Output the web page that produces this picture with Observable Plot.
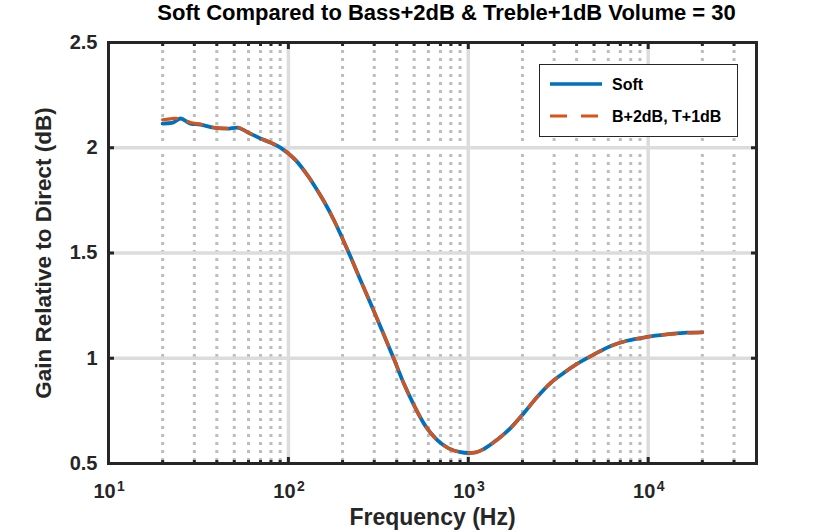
<!DOCTYPE html>
<html>
<head>
<meta charset="utf-8">
<script src="https://cdn.jsdelivr.net/npm/d3@7"></script>
<script src="https://cdn.jsdelivr.net/npm/@observablehq/plot@0.6"></script>
<style>
  html, body { margin: 0; padding: 0; background: #fff; }
  #chart svg { display: block; }
</style>
</head>
<body>
<div id="chart"></div>
<script>
// ---- data ----
const freq = [20, 22.6, 25.1, 28.5, 32.4, 38.4, 45.6, 51.9, 58.9, 69.9, 79.4, 88, 94, 100, 110, 127, 141, 157, 178.6, 200, 216, 250, 298, 338, 385, 437, 497, 576, 670, 778, 903, 1000, 1100, 1216, 1443, 1711, 2029, 2408, 2855, 3388, 4020, 4970, 6150, 7620, 9840, 12700, 16400, 20000];
const soft = [2.115, 2.118, 2.139, 2.115, 2.110, 2.096, 2.091, 2.096, 2.075, 2.044, 2.025, 2.006, 1.990, 1.973, 1.940, 1.872, 1.814, 1.748, 1.658, 1.568, 1.504, 1.377, 1.226, 1.115, 0.999, 0.882, 0.780, 0.680, 0.612, 0.572, 0.554, 0.550, 0.553, 0.568, 0.612, 0.667, 0.738, 0.815, 0.881, 0.930, 0.973, 1.017, 1.057, 1.083, 1.101, 1.113, 1.122, 1.123];
const bassTreble = [2.133, 2.138, 2.140, 2.120, 2.112, 2.096, 2.092, 2.098, 2.075, 2.044, 2.025, 2.006, 1.990, 1.973, 1.940, 1.872, 1.814, 1.748, 1.658, 1.568, 1.504, 1.377, 1.226, 1.115, 0.999, 0.882, 0.780, 0.680, 0.612, 0.572, 0.554, 0.550, 0.553, 0.568, 0.612, 0.667, 0.738, 0.815, 0.881, 0.930, 0.973, 1.017, 1.057, 1.083, 1.101, 1.113, 1.120, 1.123];
const seriesNames = ["Soft", "B+2dB, T+1dB"];
const decadeExponents = [1, 2, 3, 4];
const majorX = [100, 1000, 10000];
const minorX = [20, 30, 40, 50, 60, 70, 80, 90, 200, 300, 400, 500, 600, 700, 800, 900, 2000, 3000, 4000, 5000, 6000, 7000, 8000, 9000, 20000, 30000];
const yTicks = [0.5, 1, 1.5, 2, 2.5];
const yGrid = [1, 1.5, 2];
const titleText = "Soft Compared to Bass+2dB & Treble+1dB Volume = 30";
const xLabel = "Frequency (Hz)";
const yLabel = "Gain Relative to Direct (dB)";

const softData = freq.map((f, i) => ({f, v: soft[i]}));
const btData = freq.map((f, i) => ({f, v: bassTreble[i]}));

const BLUE = "#0072BD", ORANGE = "#D95319", AX = "#262626";
const FONT = "'Liberation Sans', Arial, Helvetica, sans-serif";

const chart = Plot.plot({
  width: 836,
  height: 532,
  marginLeft: 108,
  marginRight: 80,
  marginTop: 42,
  marginBottom: 69,
  style: {fontFamily: FONT, fontWeight: "bold", background: "#fff", overflow: "visible"},
  x: {type: "log", domain: [10, 40000], axis: null},
  y: {domain: [0.5, 2.5], axis: null},
  marks: [
    Plot.gridX(minorX, {stroke: "#bdbdbd", strokeOpacity: 1, strokeWidth: 3, strokeDasharray: "3,5"}),
    Plot.gridX(majorX, {stroke: "#dcdcdc", strokeOpacity: 1, strokeWidth: 3.5}),
    Plot.gridY(yGrid, {stroke: "#dcdcdc", strokeOpacity: 1, strokeWidth: 3.5}),
    Plot.line(softData, {x: "f", y: "v", stroke: BLUE, strokeWidth: 3.8, curve: "monotone-x"}),
    Plot.line(btData, {x: "f", y: "v", stroke: ORANGE, strokeWidth: 3.2, strokeDasharray: "14,12", curve: "monotone-x"}),
    // inward ticks
    Plot.axisX({anchor: "bottom", ticks: majorX, tickSize: -6, strokeWidth: 3, stroke: AX, tickFormat: () => "", label: null}),
    Plot.axisX({anchor: "top", ticks: majorX, tickSize: -6, strokeWidth: 3, stroke: AX, tickFormat: () => "", label: null}),
    Plot.axisX({anchor: "bottom", ticks: minorX, tickSize: -3, strokeWidth: 3, stroke: AX, tickFormat: () => "", label: null}),
    Plot.axisX({anchor: "top", ticks: minorX, tickSize: -3, strokeWidth: 3, stroke: AX, tickFormat: () => "", label: null}),
    Plot.axisY({anchor: "right", ticks: yTicks, tickSize: -6, strokeWidth: 3, stroke: AX, tickFormat: () => "", label: null}),
    Plot.axisY({anchor: "left", ticks: yTicks, tickSize: -6, strokeWidth: 3, stroke: AX, tickPadding: 17, tickFormat: d => String(d), label: null, fontSize: 20, fill: AX}),
    Plot.frame({stroke: AX, strokeWidth: 3}),
    // x tick labels 10^n
    Plot.text(decadeExponents, {x: e => 10 ** e, text: () => "10", frameAnchor: "bottom", lineAnchor: "middle", dy: 28.5, dx: -4, fontSize: 20, fill: AX}),
    Plot.text(decadeExponents, {x: e => 10 ** e, text: e => String(e), frameAnchor: "bottom", lineAnchor: "middle", dy: 23, dx: 12.5, fontSize: 14, fill: AX}),
    // labels & title
    Plot.text([xLabel], {text: d => d, frameAnchor: "bottom", lineAnchor: "middle", dy: 54, fontSize: 23, fill: AX}),
    Plot.text([yLabel], {text: d => d, frameAnchor: "left", textAnchor: "middle", lineAnchor: "middle", rotate: -90, dx: -65, fontSize: 22.5, fill: AX}),
    Plot.text([titleText], {text: d => d, frameAnchor: "top", lineAnchor: "middle", dy: -29.5, dx: 14, fontSize: 22, fill: "#000"})
  ]
});

// legend inside the axes (top-right)
const svg = d3.select(chart);
const lg = svg.append("g").attr("font-family", FONT).attr("font-weight", "bold").attr("text-anchor", "start");
lg.append("rect").attr("x", 539.5).attr("y", 64.5).attr("width", 198).attr("height", 72)
  .attr("fill", "#fff").attr("stroke", AX).attr("stroke-width", 1);
const entries = [
  {name: seriesNames[0], color: BLUE, dash: null, w: 3.6},
  {name: seriesNames[1], color: ORANGE, dash: "17,14", w: 3.2}
];
entries.forEach((e, i) => {
  const cy = 84 + i * 32;
  lg.append("line").attr("x1", 550).attr("x2", 602).attr("y1", cy).attr("y2", cy)
    .attr("stroke", e.color).attr("stroke-width", e.w).attr("stroke-dasharray", e.dash);
  lg.append("text").attr("x", 612).attr("y", cy).attr("dy", "0.35em")
    .attr("font-size", 16).attr("fill", "#000").text(e.name);
});

document.getElementById("chart").append(chart);
</script>
</body>
</html>
